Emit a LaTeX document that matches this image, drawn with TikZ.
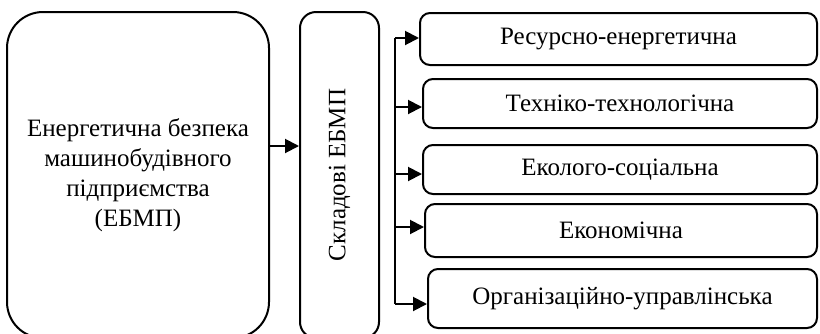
\documentclass[tikz,border=0pt]{standalone}
\usepackage{fontspec}
\setmainfont{Liberation Serif}
\usetikzlibrary{arrows.meta}
\begin{document}
\begin{tikzpicture}[x=1pt,y=-1pt,
  box/.style={draw,line width=2pt,rounded corners=10pt,inner sep=0pt,align=center,font=\fontsize{25}{30}\selectfont},
  arr/.style={line width=2pt,-{Triangle[length=14pt,width=14pt]}},
  bus/.style={line width=2pt}]
\useasboundingbox (0,0) rectangle (820,333);
\clip (0,0) rectangle (820,333);
\node[box,rounded corners=36pt,minimum width=262pt,minimum height=326pt] (main) at (138,175)
  {Енергетична безпека\\машинобудівного\\підприємства\\(ЕБМП)};
\node[box,rounded corners=16pt,minimum width=79pt,minimum height=326pt] (mid) at (339.5,175) {};
\node[rotate=90,font=\fontsize{25}{30}\selectfont] (midt) at (mid.center) {Складові ЕБМП};
\node[box,minimum width=397pt,minimum height=52pt] (b1) at (618.5,39) {Ресурсно-енергетична};
\node[box,minimum width=394pt,minimum height=49pt] (b2) at (620,103.5) {Техніко-технологічна};
\node[box,minimum width=394pt,minimum height=49pt] (b3) at (620,169.5) {Еколого-соціальна};
\node[box,minimum width=392pt,minimum height=53pt] (b4) at (621,230.5) {Економічна};
\node[box,minimum width=389pt,minimum height=59pt] (b5) at (622.5,298.5) {Організаційно-управлінська};
\coordinate (m) at (269,146);
\draw[arr] (main.east |- m) -- (mid.west |- m);
\coordinate (t1) at (395,38);
\coordinate (t2) at (395,107);
\coordinate (t3) at (395,174);
\coordinate (t4) at (395,227);
\coordinate (t5) at (395,304);
\draw[bus] (t1) -- (t5);
\draw[arr] (t1) -- (t1 -| b1.west);
\draw[arr] (t2) -- (t2 -| b2.west);
\draw[arr] (t3) -- (t3 -| b3.west);
\draw[arr] (t4) -- (t4 -| b4.west);
\draw[arr] (t5) -- (t5 -| b5.west);
\end{tikzpicture}
\end{document}
